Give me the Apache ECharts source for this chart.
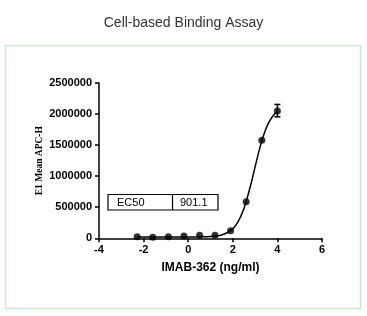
<!DOCTYPE html>
<html>
<head>
<meta charset="utf-8">
<script src="https://cdn.jsdelivr.net/npm/echarts@6/dist/echarts.min.js"></script>
<style>
html,body{margin:0;padding:0;background:#fff;}
#chart{width:367px;height:316px;}
</style>
</head>
<body>
<div id="chart"></div>
<script>
// log10 concentration (ng/ml)
const concLog = [-2.29, -1.59, -0.89, -0.19, 0.51, 1.20, 1.90, 2.60, 3.30, 4.00];
// E1 Mean APC-H
const meanAPC = [26000, 16000, 26000, 37000, 48000, 48000, 122000, 590000, 1580000, 2050000];
// error bar (only visible at top point)
const errX = [4.00];
const errLow = [1955000];
const errHigh = [2155000];
// fitted curve
const curveX = [-2.29, -1.5, -1.0, -0.5, 0.0, 0.5, 1.0, 1.5, 1.9, 2.2, 2.5, 2.8, 3.0, 3.2, 3.4, 3.6, 3.8, 4.0];
const curveY = [20000, 20000, 20000, 20500, 21000, 23000, 28000, 54000, 122000, 244000, 480000, 855000, 1150000, 1440000, 1680000, 1855000, 1970000, 2045000];
const xTicks = { min: -4, max: 6, interval: 2 };
const yTicks = { min: 0, max: 2500000, interval: 500000 };
const ec50Label = 'EC50';
const ec50Value = '901.1';

const chart = echarts.init(document.getElementById('chart'), null, { renderer: 'canvas' });
const axisFont = { fontFamily: 'Arial, "Liberation Sans", sans-serif', fontWeight: 'bold', color: '#000' };

const option = {
  backgroundColor: '#fff',
  animation: false,
  title: {
    text: 'Cell-based Binding Assay',
    left: 'center',
    top: 11,
    textStyle: { fontFamily: 'Arial, "Liberation Sans", sans-serif', fontWeight: 'normal', fontSize: 14, color: '#333' }
  },
  grid: { left: 99, top: 83, width: 223, height: 155.3 },
  xAxis: {
    type: 'value',
    min: xTicks.min, max: xTicks.max, interval: xTicks.interval,
    name: 'IMAB-362 (ng/ml)',
    nameLocation: 'middle',
    nameGap: 23,
    nameMoveOverlap: false,
    nameTextStyle: Object.assign({ fontSize: 12 }, axisFont),
    axisLine: { onZero: false, lineStyle: { color: '#000', width: 1.5 } },
    axisTick: { show: true, length: 4, lineStyle: { color: '#000', width: 1.5 } },
    axisLabel: Object.assign({ fontSize: 11, margin: 6 }, axisFont),
    splitLine: { show: false }
  },
  yAxis: {
    type: 'value',
    min: yTicks.min, max: yTicks.max, interval: yTicks.interval,
    name: 'E1 Mean APC-H',
    nameLocation: 'middle',
    nameGap: 54,
    nameMoveOverlap: false,
    nameTextStyle: { fontFamily: '"Liberation Serif", "Times New Roman", serif', fontWeight: 'bold', fontSize: 9.5, color: '#000' },
    axisLine: { show: true, onZero: false, lineStyle: { color: '#000', width: 1.5 } },
    axisTick: { show: true, length: 4, lineStyle: { color: '#000', width: 1.5 } },
    axisLabel: Object.assign({ fontSize: 11, margin: 7, formatter: v => String(v) }, axisFont),
    splitLine: { show: false }
  },
  series: [
    {
      type: 'line',
      data: curveX.map((x, i) => [x, curveY[i]]),
      smooth: 0.3,
      showSymbol: false,
      lineStyle: { color: '#000', width: 1.5 },
      z: 2
    },
    {
      type: 'scatter',
      data: concLog.map((x, i) => [x, meanAPC[i]]),
      symbol: 'circle',
      symbolSize: 7,
      itemStyle: { color: '#000' },
      z: 3
    },
    {
      type: 'custom',
      data: errX.map((x, i) => [x, errLow[i], errHigh[i]]),
      renderItem: function (params, api) {
        const lo = api.coord([api.value(0), api.value(1)]);
        const hi = api.coord([api.value(0), api.value(2)]);
        const w = 3;
        const st = { stroke: '#000', lineWidth: 1.5 };
        return {
          type: 'group',
          children: [
            { type: 'line', shape: { x1: lo[0], y1: lo[1], x2: hi[0], y2: hi[1] }, style: st },
            { type: 'line', shape: { x1: lo[0] - w, y1: lo[1], x2: lo[0] + w, y2: lo[1] }, style: st },
            { type: 'line', shape: { x1: hi[0] - w, y1: hi[1], x2: hi[0] + w, y2: hi[1] }, style: st }
          ]
        };
      },
      z: 4
    }
  ],
  graphic: [
    { type: 'rect', shape: { x: 5.5, y: 45.5, width: 355, height: 263 }, style: { fill: 'none', stroke: '#c6ecd0', lineWidth: 1.5 }, z: -1 },
    { type: 'rect', shape: { x: 108, y: 194.5, width: 110, height: 15.5 }, style: { fill: '#fff', stroke: '#000', lineWidth: 1.2 }, z: 10 },
    { type: 'line', shape: { x1: 172.5, y1: 194.5, x2: 172.5, y2: 210 }, style: { stroke: '#000', lineWidth: 1.2 }, z: 10 },
    { type: 'text', x: 117, y: 202.5, style: { text: ec50Label, font: '11px Arial, "Liberation Sans", sans-serif', fill: '#000', textVerticalAlign: 'middle' }, z: 11 },
    { type: 'text', x: 180, y: 202.5, style: { text: ec50Value, font: '11px Arial, "Liberation Sans", sans-serif', fill: '#000', textVerticalAlign: 'middle' }, z: 11 }
  ]
};
chart.setOption(option);
</script>
</body>
</html>
